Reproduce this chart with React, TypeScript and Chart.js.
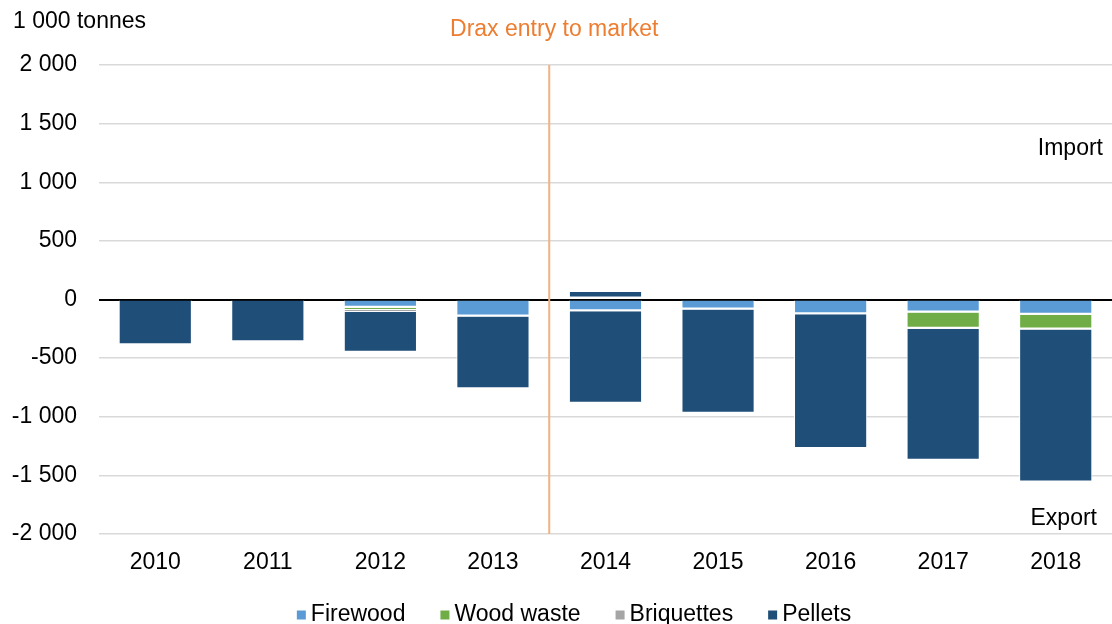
import React, { useEffect, useRef } from "react";
import { Chart, registerables } from "chart.js";

Chart.register(...registerables);

const categories = ["2010", "2011", "2012", "2013", "2014", "2015", "2016", "2017", "2018"];
const firewood = [0, 0, -70, -145, -100, -85, -125, -110, -130];
const woodWaste = [0, 0, -20, 0, 0, 0, 0, -140, -125];
const briquettes = [0, 0, -15, 0, 0, 0, 0, 0, 0];
const pelletsExport = [-390, -365, -350, -620, -790, -890, -1150, -1125, -1305];
const pelletsImport = [0, 0, 0, 0, 65, 0, 0, 0, 0];

const yMin = -2000;
const yMax = 2000;
const yStep = 500;

const unitLabel = "1 000 tonnes";
const eventLabel = "Drax entry to market";
const eventPosition = 3.5; // between 2013 and 2014
const importLabel = "Import";
const importValue = 1290;
const exportLabel = "Export";
const exportValue = -1870;

const legendNames = ["Firewood", "Wood waste", "Briquettes", "Pellets"];
const seriesColors = ["#5B9BD5", "#70AD47", "#A5A5A5", "#1F4E79"];

const FONT = "'Liberation Sans', Arial, sans-serif";
const FONT_SIZE = 23;

const fmt = (v: number) => {
  const s = Math.abs(v).toString().replace(/\B(?=(\d{3})+(?!\d))/g, " ");
  return (v < 0 ? "-" : "") + s;
};

const nz = (arr: number[]) => arr.map((v) => (v === 0 ? null : v));

const annotations = {
  id: "annotations",
  afterDatasetsDraw(chart: any) {
    const { ctx, chartArea, scales } = chart;
    const x = scales.x.getPixelForValue(eventPosition);
    ctx.save();
    ctx.strokeStyle = "#F4B183";
    ctx.lineWidth = 2;
    ctx.beginPath();
    ctx.moveTo(x, chartArea.top);
    ctx.lineTo(x, chartArea.bottom);
    ctx.stroke();

    ctx.font = `${FONT_SIZE}px ${FONT}`;
    ctx.textBaseline = "middle";
    ctx.fillStyle = "#ED7D31";
    ctx.textAlign = "center";
    ctx.fillText(eventLabel, x + 5, chartArea.top - 35);

    ctx.fillStyle = "#000000";
    ctx.textAlign = "left";
    ctx.fillText(unitLabel, chartArea.left - 86, chartArea.top - 43);

    ctx.textAlign = "right";
    ctx.fillText(importLabel, chartArea.right - 9, scales.y.getPixelForValue(importValue));
    ctx.fillText(exportLabel, chartArea.right - 15, scales.y.getPixelForValue(exportValue));

    // legend
    const box = 9;
    const boxGap = 5;
    const itemGap = 35;
    const widths = legendNames.map((n) => ctx.measureText(n).width);
    const total = widths.reduce((a, w) => a + box + boxGap + w, 0) + itemGap * (legendNames.length - 1);
    let lx = chart.width / 2 + 18 - total / 2;
    const ly = chart.height - 9;
    ctx.textAlign = "left";
    legendNames.forEach((n, i) => {
      ctx.fillStyle = seriesColors[i];
      ctx.fillRect(lx, ly - box / 2, box, box);
      lx += box + boxGap;
      ctx.fillStyle = "#000000";
      ctx.fillText(n, lx, ly);
      lx += widths[i] + itemGap;
    });
    ctx.restore();
  },
};

export default function App() {
  const ref = useRef<HTMLCanvasElement>(null);
  useEffect(() => {
    if (!ref.current) return;
    const common = {
      borderColor: "#FFFFFF",
      borderWidth: { top: 0, bottom: 2, left: 1, right: 1 },
      borderSkipped: false as any,
    };
    const chart = new Chart(ref.current, {
      type: "bar",
      data: {
        labels: categories,
        datasets: [
          { label: legendNames[0], data: nz(firewood), backgroundColor: seriesColors[0], ...common },
          { label: legendNames[1], data: nz(woodWaste), backgroundColor: seriesColors[1], ...common },
          { label: legendNames[2], data: nz(briquettes), backgroundColor: seriesColors[2], ...common },
          { label: legendNames[3], data: nz(pelletsExport), backgroundColor: seriesColors[3], ...common },
          { label: "Pellets import", data: nz(pelletsImport), backgroundColor: seriesColors[3], ...common },
        ],
      },
      options: {
        responsive: false,
        animation: false,
        layout: { padding: { top: 65, right: 0, left: 0, bottom: 49 } },
        datasets: { bar: { barPercentage: 0.65, categoryPercentage: 1 } },
        plugins: {
          tooltip: { enabled: false },
          legend: { display: false },
        },
        scales: {
          x: {
            stacked: true,
            grid: { display: false },
            border: { display: false },
            ticks: { color: "#000000", font: { family: FONT, size: FONT_SIZE }, padding: 7, maxRotation: 0 },
            afterFit: (s: any) => {
              s.height = 41;
            },
          },
          y: {
            stacked: true,
            min: yMin,
            max: yMax,
            border: { display: false },
            grid: {
              drawTicks: false,
              color: (c: any) => (c.tick && c.tick.value === 0 ? "#000000" : "#D9D9D9"),
              lineWidth: (c: any) => (c.tick && c.tick.value === 0 ? 2 : 1.5),
            },
            ticks: {
              stepSize: yStep,
              padding: 22,
              color: "#000000",
              font: { family: FONT, size: FONT_SIZE },
              callback: (v: any) => fmt(Number(v)),
            },
            afterFit: (s: any) => {
              s.width = 99;
            },
          },
        },
      },
      plugins: [annotations],
    });
    return () => chart.destroy();
  }, []);
  return (
    <div style={{ position: "absolute", left: 0, top: 0, width: 1112, height: 624, background: "#fff" }}>
      <canvas ref={ref} width={1112} height={624} />
    </div>
  );
}
